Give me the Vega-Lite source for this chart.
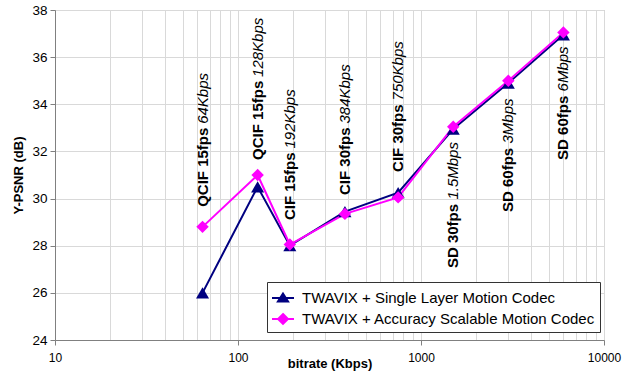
{
  "$schema": "https://vega.github.io/schema/vega-lite/v6.json",
  "width": 549,
  "height": 330,
  "autosize": {"type": "none"},
  "padding": {"left": 55, "top": 10, "right": 33, "bottom": 34},
  "config": {
    "font": "Liberation Sans",
    "view": {"stroke": "#b8b8b8", "strokeWidth": 1},
    "axis": {
      "labelColor": "black",
      "titleColor": "black",
      "labelFont": "Liberation Sans",
      "titleFont": "Liberation Sans",
      "titleFontWeight": "bold",
      "titleFontSize": 13,
      "domainColor": "#808080",
      "tickColor": "#808080",
      "gridColor": "#d9d9d9",
      "gridWidth": 1
    }
  },
  "datasets": {
    "points": [
      {"bitrate": 64, "series": "TWAVIX + Single Layer Motion Codec", "psnr": 26.0},
      {"bitrate": 128, "series": "TWAVIX + Single Layer Motion Codec", "psnr": 30.5},
      {"bitrate": 192, "series": "TWAVIX + Single Layer Motion Codec", "psnr": 28.0},
      {"bitrate": 384, "series": "TWAVIX + Single Layer Motion Codec", "psnr": 29.45},
      {"bitrate": 750, "series": "TWAVIX + Single Layer Motion Codec", "psnr": 30.25},
      {"bitrate": 1500, "series": "TWAVIX + Single Layer Motion Codec", "psnr": 32.95},
      {"bitrate": 3000, "series": "TWAVIX + Single Layer Motion Codec", "psnr": 34.9},
      {"bitrate": 6000, "series": "TWAVIX + Single Layer Motion Codec", "psnr": 36.95},
      {"bitrate": 64, "series": "TWAVIX + Accuracy Scalable Motion Codec", "psnr": 28.8},
      {"bitrate": 128, "series": "TWAVIX + Accuracy Scalable Motion Codec", "psnr": 31.0},
      {"bitrate": 192, "series": "TWAVIX + Accuracy Scalable Motion Codec", "psnr": 28.05},
      {"bitrate": 384, "series": "TWAVIX + Accuracy Scalable Motion Codec", "psnr": 29.35},
      {"bitrate": 750, "series": "TWAVIX + Accuracy Scalable Motion Codec", "psnr": 30.05},
      {"bitrate": 1500, "series": "TWAVIX + Accuracy Scalable Motion Codec", "psnr": 33.05},
      {"bitrate": 3000, "series": "TWAVIX + Accuracy Scalable Motion Codec", "psnr": 35.0},
      {"bitrate": 6000, "series": "TWAVIX + Accuracy Scalable Motion Codec", "psnr": 37.05}
    ],
    "labels": [
      {"bitrate": 64, "bold": "QCIF 15fps", "rest": "64Kbps", "ly": 29.65, "grp": "QCIF"},
      {"bitrate": 128, "bold": "QCIF 15fps", "rest": "128Kbps", "ly": 31.64, "grp": "QCIF"},
      {"bitrate": 192, "bold": "CIF 15fps", "rest": "192Kbps", "ly": 29.09, "grp": "CIF"},
      {"bitrate": 384, "bold": "CIF 30fps", "rest": "384Kbps", "ly": 30.15, "grp": "CIF"},
      {"bitrate": 750, "bold": "CIF 30fps", "rest": "750Kbps", "ly": 31.13, "grp": "CIF"},
      {"bitrate": 1500, "bold": "SD 30fps", "rest": "1.5Mbps", "ly": 27.05, "grp": "SD"},
      {"bitrate": 3000, "bold": "SD 60fps", "rest": "3Mbps", "ly": 29.43, "grp": "SD"},
      {"bitrate": 6000, "bold": "SD 60fps", "rest": "6Mbps", "ly": 31.64, "grp": "SD"}
    ]
  },
  "layer": [
    {
      "data": {"name": "points"},
      "mark": {"type": "line", "strokeWidth": 2},
      "encoding": {
        "x": {
          "field": "bitrate", "type": "quantitative",
          "scale": {"type": "log", "domain": [10, 10000], "nice": false},
          "axis": {
            "title": "bitrate (Kbps)",
            "values": [10, 20, 30, 40, 50, 60, 70, 80, 90, 100, 200, 300, 400, 500, 600, 700, 800, 900, 1000, 2000, 3000, 4000, 5000, 6000, 7000, 8000, 9000, 10000],
            "grid": true,
            "labelExpr": "indexof([10, 100, 1000, 10000], datum.value) >= 0 ? format(datum.value, 'd') : ''",
            "tickOpacity": {"condition": {"test": "indexof([10, 100, 1000, 10000], datum.value) >= 0", "value": 1}, "value": 0},
            "tickSize": 5,
            "labelPadding": 7,
            "labelFontSize": 12,
            "labelFlush": false,
            "labelOverlap": false,
            "titleY": 27.5,
            "titleBaseline": "alphabetic"
          }
        },
        "y": {
          "field": "psnr", "type": "quantitative",
          "scale": {"domain": [24, 38], "nice": false, "zero": false},
          "axis": {
            "title": "Y-PSNR (dB)",
            "values": [24, 26, 28, 30, 32, 34, 36, 38],
            "grid": true,
            "tickSize": 5,
            "labelPadding": 3,
            "labelFontSize": 13.5,
            "titlePadding": 6
          }
        },
        "color": {
          "field": "series", "type": "nominal",
          "scale": {"domain": ["TWAVIX + Single Layer Motion Codec", "TWAVIX + Accuracy Scalable Motion Codec"], "range": ["#000080", "#FF00FF"]},
          "legend": {
            "title": null,
            "orient": "none",
            "legendX": 212,
            "legendY": 272,
            "fillColor": "white",
            "strokeColor": "#333333",
            "padding": 4,
            "rowPadding": 1,
            "symbolSize": 484,
            "symbolStrokeWidth": 2,
            "labelOffset": 7,
            "labelFontSize": 15,
            "labelFont": "Liberation Sans",
            "labelColor": "black",
            "labelLimit": 500,
            "encode": {
              "symbols": {
                "update": {
                  "shape": {"signal": "datum.value === 'TWAVIX + Single Layer Motion Codec' ? 'M-1,0L1,0M0,-0.4L-0.46,0.32L0.46,0.32Z' : 'M-1,0L1,0M0,-0.45L0.45,0L0,0.45L-0.45,0Z'"},
                  "fill": {"scale": "color", "field": "value"},
                  "stroke": {"scale": "color", "field": "value"},
                  "strokeWidth": {"value": 2},
                  "opacity": {"value": 1}
                }
              }
            }
          }
        }
      }
    },
    {
      "data": {"name": "points"},
      "transform": [{"filter": "datum.series === 'TWAVIX + Single Layer Motion Codec'"}],
      "mark": {"type": "point", "filled": true, "opacity": 1, "size": 170, "shape": "triangle-up", "color": "#000080"},
      "encoding": {
        "x": {"field": "bitrate", "type": "quantitative"},
        "y": {"field": "psnr", "type": "quantitative"}
      }
    },
    {
      "data": {"name": "points"},
      "transform": [{"filter": "datum.series === 'TWAVIX + Accuracy Scalable Motion Codec'"}],
      "mark": {"type": "point", "filled": true, "opacity": 1, "size": 155, "shape": "diamond", "color": "#FF00FF"},
      "encoding": {
        "x": {"field": "bitrate", "type": "quantitative"},
        "y": {"field": "psnr", "type": "quantitative"}
      }
    },
    {
      "data": {"name": "labels"},
      "mark": {"type": "text", "angle": 270, "align": "left", "baseline": "middle", "fontSize": 15, "fontWeight": "bold", "color": "black"},
      "encoding": {
        "x": {"field": "bitrate", "type": "quantitative"},
        "y": {"field": "ly", "type": "quantitative"},
        "text": {"field": "bold"}
      }
    },
    {
      "data": {"name": "labels"},
      "transform": [{"filter": "datum.grp === 'QCIF'"}],
      "mark": {"type": "text", "angle": 270, "align": "left", "baseline": "middle", "fontSize": 15, "fontStyle": "italic", "color": "black", "dx": 83},
      "encoding": {
        "x": {"field": "bitrate", "type": "quantitative"},
        "y": {"field": "ly", "type": "quantitative"},
        "text": {"field": "rest"}
      }
    },
    {
      "data": {"name": "labels"},
      "transform": [{"filter": "datum.grp === 'CIF'"}],
      "mark": {"type": "text", "angle": 270, "align": "left", "baseline": "middle", "fontSize": 15, "fontStyle": "italic", "color": "black", "dx": 71.5},
      "encoding": {
        "x": {"field": "bitrate", "type": "quantitative"},
        "y": {"field": "ly", "type": "quantitative"},
        "text": {"field": "rest"}
      }
    },
    {
      "data": {"name": "labels"},
      "transform": [{"filter": "datum.grp === 'SD'"}],
      "mark": {"type": "text", "angle": 270, "align": "left", "baseline": "middle", "fontSize": 15, "fontStyle": "italic", "color": "black", "dx": 68.5},
      "encoding": {
        "x": {"field": "bitrate", "type": "quantitative"},
        "y": {"field": "ly", "type": "quantitative"},
        "text": {"field": "rest"}
      }
    }
  ]
}
